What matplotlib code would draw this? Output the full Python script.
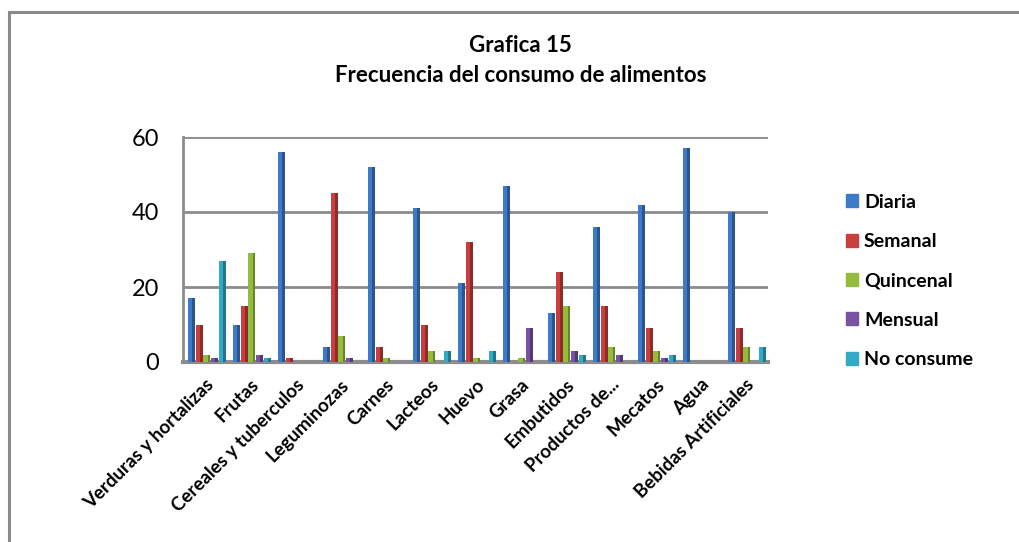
import matplotlib
matplotlib.use("Agg")
import matplotlib.pyplot as plt
import matplotlib.colors as mcolors
import numpy as np
from matplotlib.patches import Rectangle

categories = ["Verduras y hortalizas", "Frutas", "Cereales y tuberculos", "Leguminozas",
              "Carnes", "Lacteos", "Huevo", "Grasa", "Embutidos", "Productos de...",
              "Mecatos", "Agua", "Bebidas Artificiales"]
series_names = ["Diaria", "Semanal", "Quincenal", "Mensual", "No consume"]
diaria    = [17, 10, 56, 4, 52, 41, 21, 47, 13, 36, 42, 57, 40]
semanal   = [10, 15, 1, 45, 4, 10, 32, 0, 24, 15, 9, 0, 9]
quincenal = [2, 29, 0, 7, 1, 3, 1, 1, 15, 4, 3, 0, 4]
mensual   = [1, 2, 0, 1, 0, 0, 0, 9, 3, 2, 1, 0, 0]
no_consume = [27, 1, 0, 0, 0, 3, 3, 0, 2, 0, 2, 0, 4]
series = [diaria, semanal, quincenal, mensual, no_consume]
colors = ["#3D7AC9", "#C8403D", "#94BC3C", "#7952A3", "#33A9C8"]
yticks = [0, 20, 40, 60]

plt.rcParams['font.family'] = ['Lato', 'DejaVu Sans']

W, H = 1019, 542
fig = plt.figure(figsize=(W / 100, H / 100), dpi=100)
fig.patch.set_facecolor("white")

# outer border (extends beyond image right/bottom)
fig.add_artist(Rectangle((8.5 / W, -0.05), 1.2, 1 - 11.5 / H + 0.05, transform=fig.transFigure,
                         fill=False, edgecolor="#8a8a8a", linewidth=2.2))

ax = fig.add_axes([183 / W, 180 / H, 585 / W, 225 / H])
x = np.arange(len(categories))
w = 0.17
for k, (vals, c) in enumerate(zip(series, colors)):
    pos = x + (k - 2) * w + 0.03
    ax.bar(pos, vals, width=w * 0.92, color=c, edgecolor="none", zorder=3)
    dark = tuple(v * 0.7 for v in mcolors.to_rgb(c))
    ax.bar(pos + w * 0.92 * 0.3, vals, width=w * 0.92 * 0.4, color=dark, edgecolor="none", zorder=3)
ax.set_xlim(-0.5, len(categories) - 0.5)
ax.set_ylim(0, 60)
ax.set_yticks(yticks)
ax.set_yticklabels([str(v) for v in yticks], fontsize=17)
ax.tick_params(axis='y', length=0, pad=17)
ax.tick_params(axis='x', length=0, pad=10)
ax.set_xticks(x)
ax.set_xticklabels(categories, rotation=45, ha='right', rotation_mode='anchor',
                   fontsize=13.5, fontweight='bold')
for yv in yticks[1:]:
    ax.axhline(yv, color="#8c8c8c", linewidth=2, zorder=1)
for s in ["top", "right"]:
    ax.spines[s].set_visible(False)
ax.spines["left"].set_color("#8c8c8c")
ax.spines["left"].set_linewidth(2)
ax.spines["bottom"].set_color("#8c8c8c")
ax.spines["bottom"].set_linewidth(3)
ax.set_facecolor("white")

fig.text(520 / W, 1 - 46 / H, "Grafica 15", ha='center', va='center', fontsize=16, fontweight='bold')
fig.text(521 / W, 1 - 76 / H, "Frecuencia del consumo de alimentos", ha='center', va='center',
         fontsize=16, fontweight='bold')

handles = [Rectangle((0, 0), 1, 1, color=c) for c in colors]
leg = fig.legend(handles, series_names, loc='upper left', bbox_to_anchor=(828 / W, 1 - 176 / H),
                 frameon=False, prop={'weight': 'bold', 'size': 14}, handlelength=0.65,
                 handleheight=0.65, handletextpad=0.3, labelspacing=1.15)

fig.savefig("out.png", dpi=100)
